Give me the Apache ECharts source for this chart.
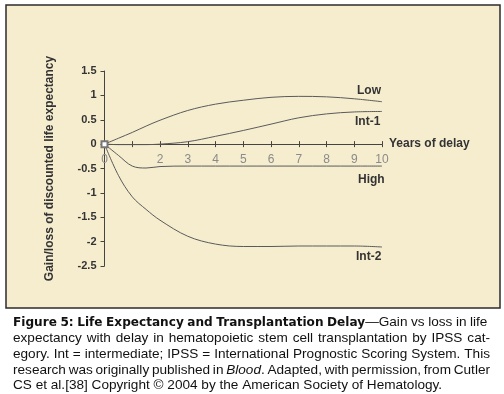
<!DOCTYPE html>
<html>
<head>
<meta charset="utf-8">
<script src="https://cdn.jsdelivr.net/npm/echarts@6/dist/echarts.min.js"></script>
<style>
html,body{margin:0;padding:0;background:#fff;}
#c{width:504px;height:394px;}
</style>
</head>
<body>
<div id="c"></div>
<script>
var years = [0, 0.5, 1, 1.5, 2, 3, 4, 5, 6, 7, 8, 9, 10];
var lowVals  = [0, 0.12, 0.24, 0.37, 0.49, 0.69, 0.82, 0.90, 0.96, 0.98, 0.97, 0.93, 0.87];
var int1Vals = [0, -0.01, -0.01, -0.01, 0, 0.05, 0.16, 0.28, 0.41, 0.54, 0.62, 0.66, 0.67];
var highVals = [0, -0.23, -0.45, -0.49, -0.46, -0.45, -0.45, -0.45, -0.45, -0.45, -0.45, -0.45, -0.45];
var int2Vals = [0, -0.64, -1.08, -1.34, -1.56, -1.89, -2.05, -2.10, -2.10, -2.09, -2.09, -2.09, -2.11];
var seriesNames = ['Low', 'Int-1', 'High', 'Int-2'];
var xTickLabels = ['0', '', '2', '3', '4', '5', '6', '7', '8', '9', '10'];
var yTickLabels = ['-2.5', '-2', '-1.5', '-1', '-0.5', '0', '0.5', '1', '1.5'];
var xAxisName = 'Years of delay';
var yAxisName = 'Gain/loss of discounted life expectancy';
var captionLines = [
  [['b', 'Figure 5: Life Expectancy and Transplantation Delay'], ['n', '\u2014Gain vs loss in life']],
  [['n', 'expectancy with delay in hematopoietic stem cell transplantation by IPSS cat-']],
  [['n', 'egory. Int = intermediate; IPSS = International Prognostic Scoring System. This']],
  [['n', 'research was originally published in '], ['i', 'Blood'], ['n', '. Adapted, with permission, from Cutler']],
  [['n', 'CS et al.[38] Copyright \u00a9 2004 by the American Society of Hematology.']]
];

function pairs(vals) { return years.map(function (x, i) { return [x, vals[i]]; }); }
var allVals = [lowVals, int1Vals, highVals, int2Vals];
var labelOffsets = [[-33, -11], [-35, 10], [-32, 14], [-34, 10]];

var capFont = '"Liberation Sans", Arial, sans-serif';
var boldFont = '"DejaVu Sans", sans-serif';
var capSize = 13.6, boldSize = 12.1;
var capFonts = {
  b: 'bold ' + boldSize + 'px ' + boldFont,
  n: capSize + 'px ' + capFont,
  i: 'italic ' + capSize + 'px ' + capFont
};
var measureCtx = document.createElement('canvas').getContext('2d');
function tw(kind, s) { measureCtx.font = capFonts[kind]; return measureCtx.measureText(s).width; }
var capWidth = 477;
var capRich = {
  b: { fontWeight: 'bold', fontSize: boldSize, fontFamily: boldFont, fill: '#111' },
  n: { fontSize: capSize, fontFamily: capFont, fill: '#111' },
  i: { fontStyle: 'italic', fontSize: capSize, fontFamily: capFont, fill: '#111' }
};
var capGraphics = captionLines.map(function (parts, li) {
  var tokens = [];
  parts.forEach(function (p) {
    p[1].split(/( )/).forEach(function (t) { if (t !== '') tokens.push([t === ' ' ? 'sp' : p[0], t, p[0]]); });
  });
  var natural = 0, nSp = 0;
  tokens.forEach(function (t) { natural += tw(t[2], t[1]); if (t[0] === 'sp') nSp++; });
  var spW = tw('n', ' ');
  var extra = (li < captionLines.length - 1 && nSp) ? (capWidth - natural) / nSp : 0;
  var gName = 'g' + li;
  capRich[gName] = { width: Math.max(2, spW + extra), fontSize: capSize, fontFamily: capFont };
  var txt = tokens.map(function (t) {
    return t[0] === 'sp' ? '{' + gName + '| }' : '{' + t[0] + '|' + t[1] + '}';
  }).join('');
  return { txt: txt, li: li };
});

var chart = echarts.init(document.getElementById('c'), null, { renderer: 'canvas' });
var font = '"Liberation Sans", Arial, sans-serif';
var gridTop = 71, gridBottom = 128;
function buildGraphic() {
  return [{
    type: 'rect', z: -10, shape: { x: 6, y: 5, width: 494, height: 303 },
    style: { fill: '#F6EDCF', stroke: '#2b2b2b', lineWidth: 1.5 }
  }].concat(capGraphics.map(function (g) {
    return {
      type: 'text', left: 13, top: 315.5 + g.li * 15.8,
      style: { text: g.txt, fill: '#111', font: capFonts.n, rich: capRich }
    };
  }));
}
var tickStyle = { color: '#444' };
chart.setOption({
  animation: false,
  backgroundColor: '#ffffff',
  graphic: buildGraphic(),
  grid: { left: 104.5, right: 122, top: gridTop, bottom: gridBottom },
  xAxis: [{
    type: 'value', min: 0, max: 10, interval: 1, position: 'bottom', offset: 0,
    axisLine: { onZero: false, lineStyle: { color: '#444', width: 1 } },
    axisTick: { show: true, length: 3, lineStyle: tickStyle },
    axisLabel: {
      margin: 10, color: '#8a8a8a', fontSize: 12, fontFamily: '"Liberation Sans Narrow", "Arial Narrow", sans-serif',
      formatter: function (v) { return xTickLabels[Math.round(v)]; }
    },
    splitLine: { show: false },
    name: xAxisName, nameLocation: 'end', nameGap: 7,
    nameTextStyle: { color: '#333', fontSize: 12, fontWeight: 'bold', fontFamily: font }
  }, {
    type: 'value', min: 0, max: 10, interval: 1, position: 'top', offset: 0,
    axisLine: { onZero: false, show: false },
    axisTick: { show: true, length: 3, lineStyle: tickStyle },
    axisLabel: { show: false }, splitLine: { show: false }
  }],
  yAxis: {
    type: 'value', min: -2.5, max: 1.5, interval: 0.5,
    axisLine: { show: true, onZero: false, lineStyle: { color: '#444', width: 1 } },
    axisTick: { show: true, length: 4, lineStyle: tickStyle },
    axisLabel: {
      margin: 8, color: '#333', fontSize: 11, fontWeight: 'bold', fontFamily: font,
      formatter: function (v) { return yTickLabels[Math.round((v + 2.5) / 0.5)]; }
    },
    splitLine: { show: false },
    name: yAxisName, nameLocation: 'middle', nameGap: 49, nameRotate: 90,
    nameTextStyle: { color: '#333', fontSize: 12, fontWeight: 'bold', fontFamily: font }
  },
  series: allVals.map(function (vals, si) {
    var d = pairs(vals);
    if (si === 1) { d[0] = { value: d[0], symbol: 'emptyRect', symbolSize: 6 }; }
    return {
      type: 'line', name: seriesNames[si], data: d, smooth: 0.35,
      symbol: 'none', showSymbol: si === 1,
      itemStyle: { color: '#777', borderColor: '#777' },
      lineStyle: { color: '#5a5a5a', width: 1 },
      endLabel: {
        show: true, formatter: seriesNames[si], offset: labelOffsets[si],
        color: '#333', fontSize: 12, fontWeight: 'bold', fontFamily: font
      },
      silent: true
    };
  })
});
var zeroY = chart.convertToPixel({ yAxisIndex: 0 }, 0);
var h = chart.getHeight();
chart.setOption({
  xAxis: [
    { offset: -((h - gridBottom) - zeroY) },
    { offset: -(zeroY - gridTop) }
  ]
});
</script>
</body>
</html>
